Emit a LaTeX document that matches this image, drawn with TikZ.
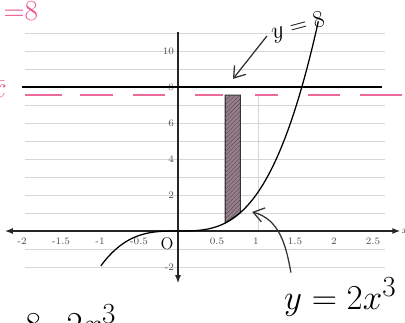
\documentclass[tikz,border=0pt]{standalone}
\usepackage{tikz}
\usetikzlibrary{arrows.meta,calc,patterns}
\definecolor{Pink}{HTML}{E8508A}
\definecolor{Mauve}{HTML}{9C7F8C}
\definecolor{Faint}{HTML}{D6D6D6}

\begin{document}
\begin{tikzpicture}[x=1.95cm,y=0.45cm,
        g/.style={draw=Faint,line width=0.5pt},
        t/.style={font=\scriptsize,text=black!70,inner sep=1pt},
        h/.style={font=\huge},
        ax/.style={line width=1pt,draw=black!85},
        d/.style={draw=Pink!85,line width=1.4pt},
        a/.style={-{Straight Barb[length=2.6mm,width=3.6mm]},line width=0.9pt,draw=black!80}]
        \useasboundingbox (-2.282,-5.056) rectangle (2.910,12.833);
        \clip (-2.282,-5.056) rectangle (2.910,12.833);
        % ruled paper
        \foreach \k in {-2,-1,1,2,...,7,9,10,11}
          \draw[g] (-1.96,\k) -- (2.65,\k);
        \draw[g] (1.03,0) -- (1.03,7.55);
        % axes
        \draw[ax,{Latex[length=2mm]}-{Latex[length=2mm]}] (-2.22,0) -- (2.85,0)
          node[t,right,inner sep=0.5pt] (xl) {$x$};
        \draw[ax,-{Latex[length=2mm]}] (0,11.05) -- (0,-2.9);
        \foreach \v [count=\i] in {-2,-1.5,-1,-0.5,0.5,1,1.5,2,2.5}
          \node[t] (xt\i) at (\v,-0.55) {\v};
        \foreach \v [count=\i] in {-2,2,4,6,8,10}
          \node[t,anchor=east] (yt\i) at (-0.03,\v) {\v};
        % lines y = 8 and the dashed one
        \draw[line width=1pt] (-2.0,8) -- (2.62,8);
        \foreach \a/\b in {-1.962/-1.487,-1.256/-0.833,-0.577/-0.167,0.218/0.577,
                           0.987/1.282,1.667/2.077,2.333/2.872}
          \draw[d] (\a,7.55) -- (\b,7.55);
        % strip
        \draw[line width=0.8pt,draw=black!80,fill=Mauve,
              postaction={pattern=north east lines,pattern color=black!65}]
          (0.605,0.44) -- (0.605,7.55) -- (0.8,7.55) -- (0.8,1.02) -- cycle;
        % curve
        \draw[line width=0.9pt,domain=-0.99:1.8,samples=80] plot (\x,{2*\x^3});
        % handwriting
        \node[font=\large] (o) at (-0.14,-0.7) {O};
        \node[font=\LARGE,rotate=15] (y8) at (1.54,11.3) {$y=8$};
        \coordinate (p8) at (0.705,8.45);
        \draw[a] (y8.west) -- (p8);
        \node[font=\Huge] (yc) at (2.08,-3.65) {$y=2x^3$};
        \coordinate (pc) at (0.95,1.06);
        \draw[a] ($(yc.north west)+(0.15,0)$) to[out=100,in=-15] (pc);
        \node[h,text=Pink,anchor=west] (pe) at (-2.30,12.2) {${=}8$};
        \node[h,text=Pink,anchor=east] (pb) at (-2.13,7.85) {$\bar x$};
        \node[font=\Huge,anchor=base west,inner sep=0pt] (be) at (-1.96,-5.85) {$8{=}2x^3$};
      \end{tikzpicture}
\end{document}
